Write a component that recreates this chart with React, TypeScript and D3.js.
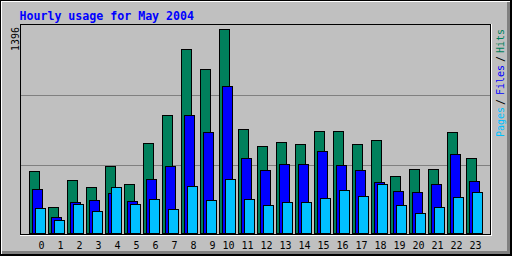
import React from "react";
import * as d3 from "d3";

const title = "Hourly usage for May 2004";
const hours = d3.range(24).map((h) => String(h));
const hits = [424, 178, 363, 315, 458, 335, 616, 807, 1259, 1122, 1396, 712, 595, 623, 609, 698, 698, 609, 636, 390, 438, 438, 691, 513];
const files = [301, 109, 212, 226, 274, 219, 370, 458, 807, 691, 1006, 513, 431, 472, 472, 561, 465, 431, 349, 287, 281, 335, 541, 356];
const pages = [171, 89, 198, 151, 315, 198, 233, 164, 322, 226, 370, 233, 192, 212, 212, 240, 294, 253, 335, 192, 137, 178, 246, 281];
const maxValue = 1396;
const gridValues = [465, 944];

const HIT = "#00805C";
const FILE = "#0000FF";
const PAGE = "#00C0FF";
const MONO = "'DejaVu Sans Mono', monospace";

export default function App() {
  const W = 512, H = 256;
  const base = 233;
  const y = d3.scaleLinear().domain([0, maxValue]).range([base, 29]);
  const x = d3.scaleLinear().domain([0, 23]).range([29, 29 + 19 * 23]);
  const series = [
    { data: hits, color: HIT, off: 0 },
    { data: files, color: FILE, off: 3 },
    { data: pages, color: PAGE, off: 6 },
  ];
  return (
    <svg width={W} height={H} style={{ position: "absolute", left: 0, top: 0, display: "block" }}>
      <rect x={0} y={0} width={W} height={H} fill="#C0C0C0" />
      {/* bevel */}
      <rect x={1} y={1} width={W - 2} height={1} fill="#FFFFFF" />
      <rect x={1} y={1} width={1} height={H - 2} fill="#FFFFFF" />
      <rect x={2} y={251} width={W - 4} height={3} fill="#808080" />
      <rect x={507} y={2} width={3} height={H - 4} fill="#808080" />
      <rect x={0.5} y={0.5} width={W - 1} height={H - 1} fill="none" stroke="#000" />
      <rect x={1} y={254} width={W - 2} height={1} fill="#000" />
      <rect x={510} y={1} width={1} height={H - 2} fill="#000" />
      {/* title */}
      <text x={19.5} y={19.5} fill="#0000FF" fontFamily={MONO} fontWeight="bold" fontSize={11.6}>{title}</text>
      {/* plot frame */}
      <line x1={20} y1={235.5} x2={492} y2={235.5} stroke="#FFF" />
      <line x1={491.5} y1={24} x2={491.5} y2={236} stroke="#FFF" />
      <rect x={20.5} y={24.5} width={470} height={210} fill="none" stroke="#000" />
      {/* grid */}
      {gridValues.map((g) => (
        <line key={g} x1={21} x2={490} y1={Math.round(y(g)) + 0.5} y2={Math.round(y(g)) + 0.5} stroke="#808080" />
      ))}
      {/* bars */}
      {hours.map((_, i) =>
        series.map((s, k) => {
          const top = Math.round(y(s.data[i]));
          return (
            <rect key={i + "-" + k} x={x(i) + s.off + 0.5} y={top + 0.5} width={10} height={base - top}
              fill={s.color} stroke="#000" strokeWidth={1} />
          );
        })
      )}
      {/* hour labels */}
      {hours.map((h, i) => (
        <text key={h} x={x(i) + 15.5} y={248.7} textAnchor="end" fontFamily={MONO} fontSize={10} fill="#000">{h}</text>
      ))}
      {/* max label */}
      <text transform="translate(19.3,51) rotate(-90)" fontFamily={MONO} fontSize={10} fill="#000">{maxValue}</text>
      {/* legend */}
      <text transform="translate(504,137) rotate(-90)" fontFamily={MONO} fontSize={10} fill={PAGE}>Pages</text>
      <text transform="translate(504,105) rotate(-90)" fontFamily={MONO} fontSize={10} fill="#000">/</text>
      <text transform="translate(504,95) rotate(-90)" fontFamily={MONO} fontSize={10} fill={FILE}>Files</text>
      <text transform="translate(504,62) rotate(-90)" fontFamily={MONO} fontSize={10} fill="#000">/</text>
      <text transform="translate(504,53) rotate(-90)" fontFamily={MONO} fontSize={10} fill={HIT}>Hits</text>
    </svg>
  );
}
